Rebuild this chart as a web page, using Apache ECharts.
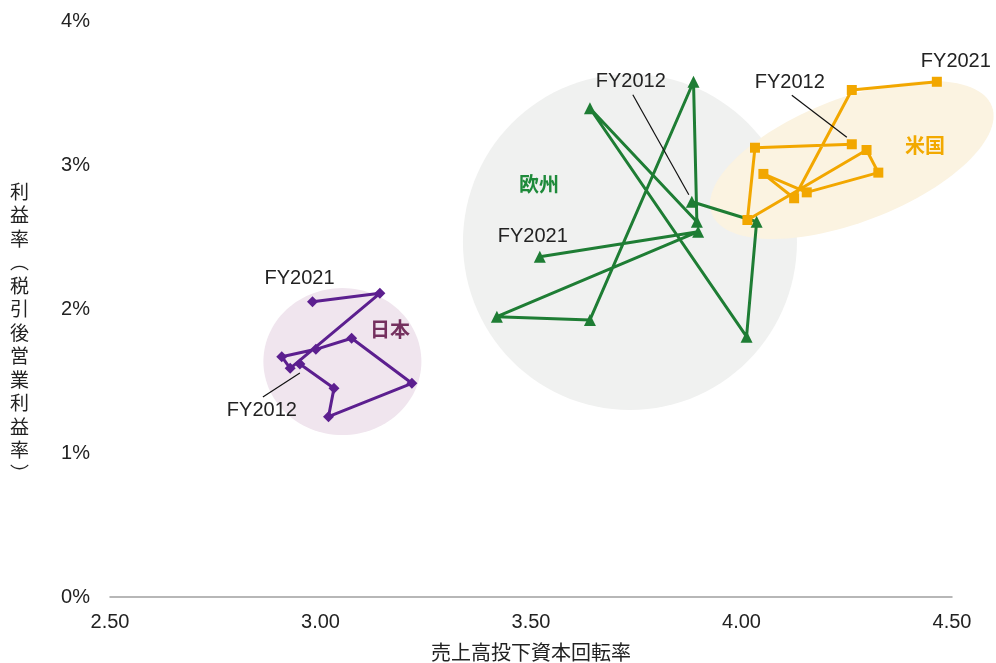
<!DOCTYPE html>
<html>
<head>
<meta charset="utf-8">
<script src="https://cdn.jsdelivr.net/npm/echarts@6/dist/echarts.min.js"></script>
<style>
html,body{margin:0;padding:0;background:#fff;}
#chart{width:996px;height:663px;}
</style>
</head>
<body>
<div id="chart"></div>
<script>
// ---- data (FY2012 .. FY2021) ----
var years = ['FY2012','FY2013','FY2014','FY2015','FY2016','FY2017','FY2018','FY2019','FY2020','FY2021'];
// 売上高投下資本回転率 (x) and 利益率 % (y)
var japanX  = [2.951, 3.032, 3.019, 3.217, 3.074, 2.989, 2.908, 2.928, 3.141, 2.981];
var japanY  = [1.618, 1.449, 1.252, 1.484, 1.797, 1.720, 1.669, 1.588, 2.109, 2.051];
var europeX = [3.882, 4.036, 4.012, 3.640, 3.894, 3.886, 3.640, 3.419, 3.897, 3.521];
var europeY = [2.745, 2.606, 1.808, 3.394, 2.606, 3.578, 1.924, 1.947, 2.537, 2.363];
var usX     = [4.262, 4.032, 4.014, 4.297, 4.325, 4.155, 4.052, 4.125, 4.262, 4.464];
var usY     = [3.144, 3.120, 2.618, 3.104, 2.947, 2.810, 2.938, 2.769, 3.521, 3.578];
var xTicks = [2.5, 3.0, 3.5, 4.0, 4.5];
var yTicks = [0, 1, 2, 3, 4];
var regionNames = ['日本', '欧州', '米国'];

// ---- styling / annotation config ----
var FONT = '"Liberation Sans", "Noto Sans CJK JP", sans-serif';
var CJK = '"Noto Sans CJK JP", "Liberation Sans", sans-serif';
var regions = [
  {center: [3.052, 1.635], rx: 79, ry: 73.5, angle: 0, fill: '#f0e5ee', labelAt: [3.165, 1.861], color: '#74305e'},
  {center: [3.735, 2.465], rx: 167, ry: 168, angle: 0, fill: '#f0f1f0', labelAt: [3.519, 2.868], color: '#1e8a3a'},
  {center: [4.262, 3.035], rx: 150, ry: 62, angle: 21, fill: '#fbf3e1', labelAt: [4.436, 3.139], color: '#f2a900'}
];
// label offsets (px, from the point) for FY2012 (index 0) and FY2021 (index 9)
var labelOffsets = [
  {0: [-38, 46], 9: [-13, -23]},
  {0: [-61, -120], 9: [-7, -20]},
  {0: [-62, -62], 9: [19, -20]}
];
// leader line start/end offsets (px, from the FY2012 point)
var leaderOffsets = [
  [[-37, 33], [0, 9]],
  [[-59, -107], [-3, -7]],
  [[-60, -49], [-5, -7]]
];

function pairs(xs, ys) {
  return xs.map(function (x, i) {
    var item = {value: [x, ys[i]]};
    if (i === 0 || i === xs.length - 1) {
      item.label = {show: true, formatter: years[i]};
    }
    return item;
  });
}

function makeLine(name, xs, ys, color, symbol, size, idx) {
  return {
    name: name,
    type: 'line',
    z: 3,
    data: pairs(xs, ys),
    symbol: symbol,
    symbolSize: size,
    showAllSymbol: true,
    lineStyle: {color: color, width: 3},
    itemStyle: {color: color},
    label: {show: false, position: 'inside', color: '#222', fontSize: 20, fontFamily: FONT},
    labelLayout: function (p) {
      var o = labelOffsets[idx][p.dataIndex];
      if (!o) return {};
      return {dx: o[0], dy: o[1]};
    },
    emphasis: {disabled: true},
    animation: false
  };
}

var chart = echarts.init(document.getElementById('chart'));

var option = {
  animation: false,
  backgroundColor: '#fff',
  grid: {left: 110, right: 44, top: 21, bottom: 66, containLabel: false, outerBoundsMode: 'none'},
  xAxis: {
    type: 'value',
    min: xTicks[0], max: xTicks[xTicks.length - 1], interval: 0.5,
    name: '売上高投下資本回転率',
    nameLocation: 'middle', nameGap: 45,
    nameTextStyle: {fontSize: 20, color: '#222', fontFamily: CJK},
    axisLine: {show: true, lineStyle: {color: '#a0a0a0', width: 1.5}},
    axisTick: {show: false},
    splitLine: {show: false},
    axisLabel: {fontSize: 20, color: '#222', fontFamily: FONT, margin: 15,
      formatter: function (v) { return v.toFixed(2); }}
  },
  yAxis: {
    type: 'value',
    min: yTicks[0], max: yTicks[yTicks.length - 1], interval: 1,
    axisLine: {show: false},
    axisTick: {show: false},
    splitLine: {show: false},
    axisLabel: {fontSize: 20, color: '#222', fontFamily: FONT, margin: 20,
      formatter: function (v) { return v + '%'; }}
  },
  graphic: [{
    type: 'text',
    left: 10,
    top: 180,
    style: {
      text: '利\n益\n率\n︵\n税\n引\n後\n営\n業\n利\n益\n率\n︶',
      font: '19px ' + CJK,
      lineHeight: 23.5,
      fill: '#222',
      align: 'center'
    }
  }],
  series: [
    {
      type: 'custom',
      z: 1,
      silent: true,
      clip: false,
      data: regions.map(function (r, i) { return [r.center[0], r.center[1], i]; }),
      encode: {x: 0, y: 1},
      renderItem: function (params, api) {
        var r = regions[api.value(2)];
        var c = api.coord([api.value(0), api.value(1)]);
        var a = -r.angle * Math.PI / 180;
        var pts = [];
        for (var k = 0; k < 120; k++) {
          var t = k / 120 * Math.PI * 2;
          var ex = r.rx * Math.cos(t), ey = r.ry * Math.sin(t);
          pts.push([c[0] + ex * Math.cos(a) - ey * Math.sin(a), c[1] + ex * Math.sin(a) + ey * Math.cos(a)]);
        }
        var lp = api.coord(r.labelAt);
        return {
          type: 'group',
          children: [
            {type: 'polygon', shape: {points: pts}, style: {fill: r.fill, stroke: null}},
            {type: 'text', style: {text: regionNames[api.value(2)], x: lp[0], y: lp[1],
              fill: r.color, font: 'bold 20px ' + CJK, align: 'center', verticalAlign: 'middle'}}
          ]
        };
      },
      animation: false
    },
    {
      // leader lines from the FY2012 labels to their points
      type: 'custom',
      z: 4,
      silent: true,
      clip: false,
      data: [[japanX[0], japanY[0], 0], [europeX[0], europeY[0], 1], [usX[0], usY[0], 2]],
      encode: {x: 0, y: 1},
      renderItem: function (params, api) {
        var c = api.coord([api.value(0), api.value(1)]);
        var L = leaderOffsets[api.value(2)];
        return {
          type: 'line',
          shape: {x1: c[0] + L[0][0], y1: c[1] + L[0][1], x2: c[0] + L[1][0], y2: c[1] + L[1][1]},
          style: {stroke: '#111', lineWidth: 1.2}
        };
      },
      animation: false
    },
    makeLine('日本', japanX, japanY, '#5c1f8f', 'diamond', 11, 0),
    makeLine('欧州', europeX, europeY, '#1e7d34', 'triangle', 12, 1),
    makeLine('米国', usX, usY, '#f2a700', 'rect', 10, 2)
  ]
};
chart.setOption(option);
</script>
</body>
</html>
